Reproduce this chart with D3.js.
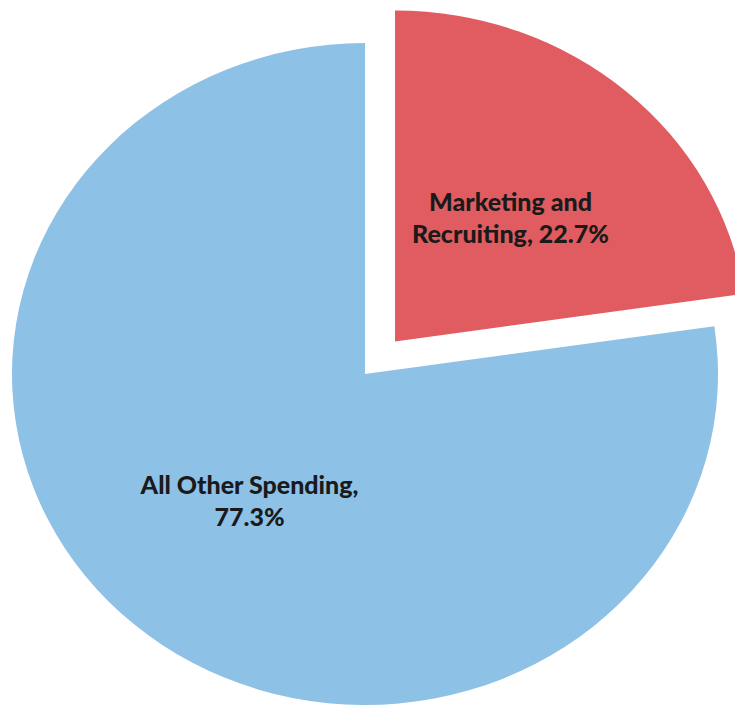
<!DOCTYPE html>
<html>
<head>
<meta charset="utf-8">
<script src="https://cdn.jsdelivr.net/npm/d3@7"></script>
<style>
  body { margin: 0; background: #fff; }
  svg { display: block; }
</style>
</head>
<body>
<script>
const categories = ['Marketing and Recruiting', 'All Other Spending']
const values = [22.7, 77.3]
const labelLines = [['Marketing and', 'Recruiting, 22.7%'], ['All Other Spending,', '77.3%']]
const exploded = [true, false]

const width = 735
const height = 705
const ry = 331
const rx = 353
const cx = 365
const cy = 374
const explode = 43
const colors = ['#e05c60', '#8ec1e6']

const pie = d3.pie().sort(null).value((d) => d.value)
const arc = d3.arc().innerRadius(0).outerRadius(ry)
const labelArc = d3.arc().innerRadius(0).outerRadius(ry)

const data = pie(categories.map((c, i) => ({ name: c, value: values[i], i })))

const svg = d3.select('body').append('svg').attr('width', width).attr('height', height)

// pie is a bit wider than tall in the reference
const g = svg.append('g').attr('transform', `translate(${cx},${cy}) scale(${rx / ry},1)`)

const offset = (d) => {
  if (!exploded[d.data.i]) return [0, 0]
  const a = (d.startAngle + d.endAngle) / 2
  return [Math.sin(a) * explode, -Math.cos(a) * explode]
}

g.selectAll('path')
  .data(data)
  .join('path')
  .attr('fill', (d) => colors[d.data.i])
  .attr('transform', (d) => `translate(${offset(d)})`)
  .attr('d', arc)

const labels = svg
  .append('g')
  .attr('font-family', 'Lato, "Open Sans", sans-serif')
  .attr('font-weight', 900)
  .attr('font-size', 25)
  .attr('fill', '#1a1a1a')
  .attr('text-anchor', 'middle')
  .selectAll('text')
  .data(data)
  .join('text')
  .attr('transform', (d) => {
    const [ox, oy] = offset(d)
    const [x, y] = labelArc.centroid(d)
    return `translate(${cx + ((x + ox) * rx) / ry},${cy + y + oy})`
  })

labels
  .selectAll('tspan')
  .data((d) => labelLines[d.data.i])
  .join('tspan')
  .attr('x', 0)
  .attr('y', (d, i) => (i - 0.5) * 32 + 11)
  .text((d) => d)
</script>
</body>
</html>
